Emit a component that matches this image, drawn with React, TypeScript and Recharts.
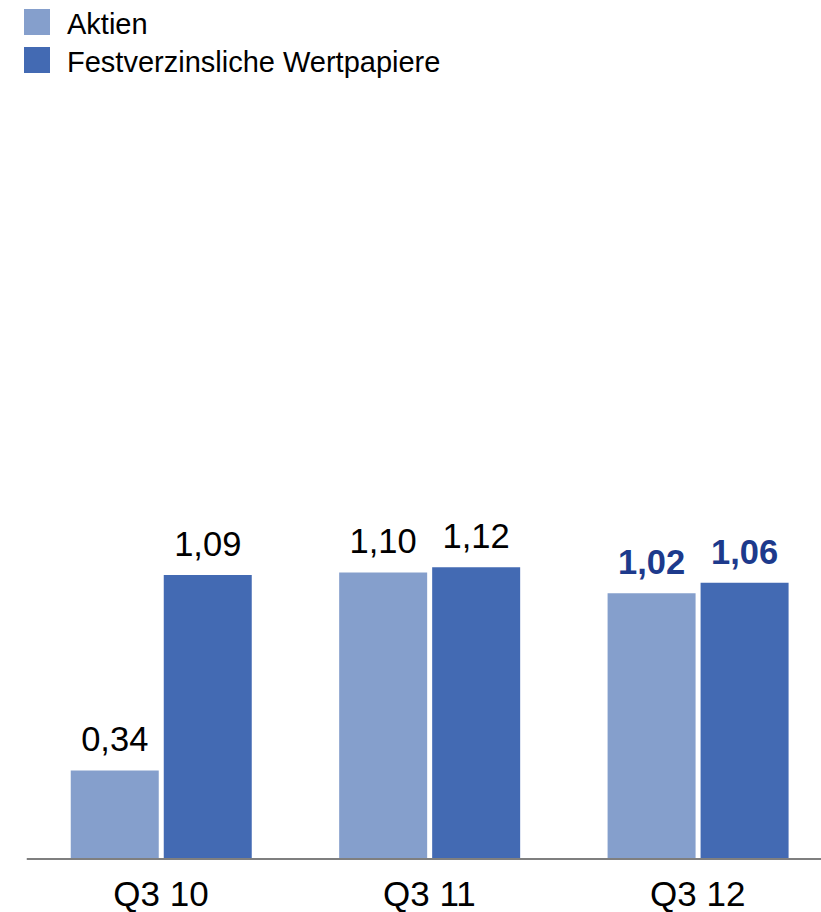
import React from "react";
import { BarChart, Bar, XAxis, YAxis } from "recharts";

const categories = ["Q3 10", "Q3 11", "Q3 12"];
const aktien = [0.34, 1.1, 1.02];
const festverzinslich = [1.09, 1.12, 1.06];
const seriesNames = ["Aktien", "Festverzinsliche Wertpapiere"];

const LIGHT = "#859fcc";
const DARK = "#436ab3";
const HIGHLIGHT = "#1d3a8c";
const FONT = "'Liberation Sans', Arial, sans-serif";

const data = categories.map((c, i) => ({
  name: c,
  aktien: aktien[i],
  fest: festverzinslich[i],
}));

const fmt = (v: number) => v.toFixed(2).replace(".", ",");

function renderLabel(props: any) {
  const { x, y, width, value, index } = props;
  const last = index === categories.length - 1;
  return (
    <text
      x={Number(x) + Number(width) / 2}
      y={Number(y) - 19}
      textAnchor="middle"
      fontSize={34.5}
      fontFamily={FONT}
      fontWeight={last ? 700 : 400}
      fill={last ? HIGHLIGHT : "#000"}
    >
      {fmt(Number(value))}
    </text>
  );
}

// legend drawn on top of the chart so it doesn't eat plot height
function LegendBox() {
  const colors = [LIGHT, DARK];
  return (
    <svg
      width={470}
      height={80}
      style={{ position: "absolute", top: 0, left: 0, display: "block" }}
    >
      {seriesNames.map((n, i) => (
        <g key={n}>
          <rect x={24} y={9 + i * 38} width={26} height={26} fill={colors[i]} />
          <text x={67} y={34 + i * 38} fontSize={29} fontFamily={FONT} fill="#000">
            {n}
          </text>
        </g>
      ))}
    </svg>
  );
}

export default function App() {
  return (
    <div
      style={{
        position: "absolute",
        top: 0,
        left: 0,
        width: 821,
        height: 912,
        overflow: "hidden",
        background: "#fff",
      }}
    >
      <BarChart
        width={832}
        height={912}
        data={data}
        margin={{ top: 77.5, right: 0, left: 26.75, bottom: 0 }}
        barGap={5}
        barSize={88}
      >
        <XAxis
          dataKey="name"
          height={53}
          tickLine={false}
          tickSize={0}
          tickMargin={22}
          axisLine={{ stroke: "#7f7f7f", strokeWidth: 2 }}
          tick={{ fontSize: 35, fill: "#000", fontFamily: FONT }}
          interval={0}
        />
        <YAxis hide domain={[0, 3]} />
        <Bar
          dataKey="aktien"
          name={seriesNames[0]}
          fill={LIGHT}
          isAnimationActive={false}
          label={renderLabel}
        />
        <Bar
          dataKey="fest"
          name={seriesNames[1]}
          fill={DARK}
          isAnimationActive={false}
          label={renderLabel}
        />
      </BarChart>
      <LegendBox />
    </div>
  );
}
